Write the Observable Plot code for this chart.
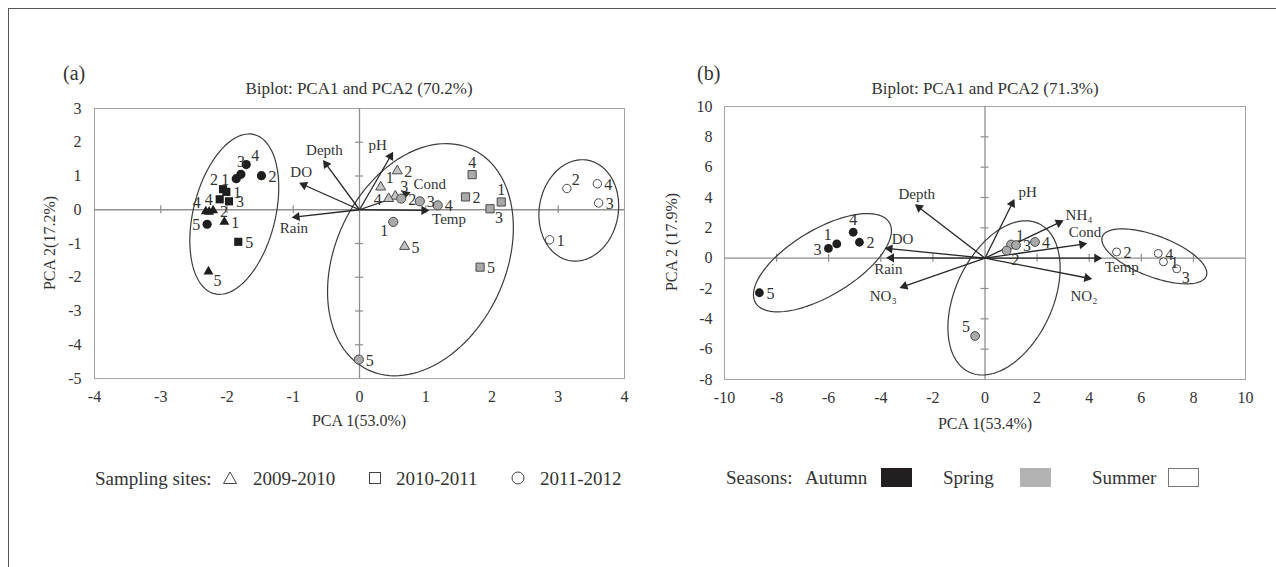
<!DOCTYPE html>
<html><head><meta charset="utf-8">
<script src="https://cdn.jsdelivr.net/npm/d3@7"></script>
<script src="https://cdn.jsdelivr.net/npm/@observablehq/plot@0.6"></script>
<style>
body{margin:0;background:#fff;}
#page{position:relative;width:1276px;height:567px;overflow:hidden;font-family:"Liberation Serif","Times New Roman",serif;color:#333;}
.t{position:absolute;white-space:nowrap;line-height:1;}
.panel{position:absolute;}
#border{position:absolute;left:8px;top:8px;width:1300px;height:620px;border:1px solid #555;box-sizing:border-box;}
</style></head><body><div id="page"><div id="border"></div></div>
<script>
// ---------- Tick labels ----------
const aXTicks = [-4,-3,-2,-1,0,1,2,3,4];
const aYTicks = [-5,-4,-3,-2,-1,0,1,2,3];
const bXTicks = [-10,-8,-6,-4,-2,0,2,4,6,8,10];
const bYTicks = [-8,-6,-4,-2,0,2,4,6,8,10];

// ---------- Panel (a): sample scores [PCA1, PCA2], sites 1-5 ----------
const aAutumn2009 = [[-2.04,-0.36],[-2.21,-0.02],[-2.27,-0.06],[-2.32,-0.05],[-2.28,-1.83]];
const aAutumn2010 = [[-2.01,0.53],[-2.06,0.61],[-1.97,0.25],[-2.11,0.31],[-1.83,-0.95]];
const aAutumn2011 = [[-1.86,0.92],[-1.48,1.01],[-1.79,1.05],[-1.71,1.34],[-2.30,-0.43]];
const aSpring2009 = [[0.32,0.67],[0.57,1.15],[0.54,0.40],[0.44,0.33],[0.68,-1.09]];
const aSpring2010 = [[2.14,0.23],[1.60,0.38],[1.97,0.03],[1.70,1.04],[1.82,-1.70]];
const aSpring2011 = [[0.51,-0.36],[0.63,0.33],[0.91,0.25],[1.18,0.13],[-0.01,-4.44]];
const aSummer2011 = [[2.87,-0.89],[3.13,0.63],[3.61,0.20],[3.59,0.77]];
// label placement codes
const aAutumn2009Lab = ["r","r","","ul","dr"];
const aAutumn2010Lab = ["r","ul","r","l","r"];
const aAutumn2011Lab = ["l","r","u","ur","l"];
const aSpring2009Lab = ["ur","r","ur","l","r"];
const aSpring2010Lab = ["u","r","dr","u","r"];
const aSpring2011Lab = ["dl","r","r","r","r"];
const aSummer2011Lab = ["r","ur","r","r"];
// loadings
const aVars  = ["pH","Depth","DO","Rain","Temp","Cond"];
const aLoad1 = [0.49,-0.53,-0.88,-0.99,1.02,0.74];
const aLoad2 = [1.66,1.42,0.77,-0.22,-0.02,0.50];
const aVarLab = ["ul","u","u","d","dr","ur"];

// ---------- Panel (b) ----------
const bAutumn = [[-5.69,0.94],[-4.82,1.05],[-6.01,0.64],[-5.06,1.71],[-8.66,-2.28]];
const bSpring = [[1.00,0.90],[0.83,0.50],[1.19,0.86],[1.92,1.07],[-0.38,-5.13]];
const bSummer = [[6.85,-0.24],[5.05,0.41],[7.36,-0.70],[6.65,0.31]];
const bAutumnLab = ["ul","r","l","u","r"];
const bSpringLab = ["ur","dr","r","r","ul"];
const bSummerLab = ["r","r","dr","r"];
const bVars  = ["DO","Rain","NO\u2083","Depth","pH","NH\u2084","Cond","Temp","NO\u2082"];
const bLoad1 = [-3.77,-3.71,-3.20,-2.62,1.09,2.94,3.84,4.41,4.03];
const bLoad2 = [0.64,0.02,-1.91,3.46,3.77,2.43,0.94,0.00,-1.34];
const bVarLab = ["ur","d","dl","u","ur","rr","u","dr","dd"];

// cluster outlines: centre in data units, semi-axes in px, angle in degrees
const aClusters = [{cx:-1.89,cy:-0.13,rx:82,ry:41,angle:76},{cx:0.92,cy:-1.48,rx:122,ry:85,angle:64.6},{cx:3.31,cy:-0.02,rx:51,ry:39.5,angle:80}];
const bClusters = [{cx:-6.24,cy:-0.30,rx:78,ry:33,angle:31},{cx:0.73,cy:-2.62,rx:82,ry:48.7,angle:65},{cx:6.50,cy:0.12,rx:55.6,ry:20.5,angle:-20.75}];

const OFF = {r:[7,1,"start"], l:[-7,1,"end"], u:[0,-12,"middle"], d:[0,11,"middle"], ur:[5,-9,"start"], ul:[-5,-9,"end"], dr:[5,9,"start"], dl:[-5,9,"end"], dd:[-6,18,"middle"], rr:[4,-6,"start"]};

const FONT = '"Liberation Serif","Times New Roman",serif';
const BLACK = "#1e1e1e", GRAY = "#a9a9a9", EDGE = "#4a4a4a";

function rowsOf(pts, labs){ return pts.map((p,i)=>({x:p[0], y:p[1], site:String(i+1), lab:labs[i]})); }

function panel(cfg){
  const {width,height,ml,mr,mt,mb,xDomain,yDomain,xTicks,yTicks,groups,vars,l1,l2,vlab,clusters,tpx,tpy} = cfg;
  const kx = (width-ml-mr)/(xDomain[1]-xDomain[0]);
  const ky = (height-mt-mb)/(yDomain[1]-yDomain[0]);
  const marks = [];
  marks.push(Plot.frame({stroke:"#a3a3a3", strokeWidth:1}));
  marks.push(Plot.ruleY([0], {stroke:"#8e8e8e", strokeWidth:1.3}));
  marks.push(Plot.ruleX([0], {stroke:"#8e8e8e", strokeWidth:1.3}));
  const xm = xTicks.filter(t=>t!==0 && t>xDomain[0] && t<xDomain[1]);
  const ym = yTicks.filter(t=>t!==0 && t>yDomain[0] && t<yDomain[1]);
  marks.push(Plot.ruleX(xm, {x:d=>d, y1:()=>-4/ky, y2:()=>4/ky, stroke:"#8e8e8e", strokeWidth:1.2}));
  marks.push(Plot.ruleY(ym, {y:d=>d, x1:()=>-4/kx, x2:()=>4/kx, stroke:"#8e8e8e", strokeWidth:1.2}));
  // ellipses
  const erows = [];
  clusters.forEach((c,id)=>{
    const phi = c.angle*Math.PI/180;
    for(let i=0;i<=120;i++){
      const t = 2*Math.PI*i/120;
      const px = c.rx*Math.cos(t)*Math.cos(phi) - c.ry*Math.sin(t)*Math.sin(phi);
      const py = c.rx*Math.cos(t)*Math.sin(phi) + c.ry*Math.sin(t)*Math.cos(phi);
      erows.push({x:c.cx+px/kx, y:c.cy+py/ky, id});
    }
  });
  marks.push(Plot.line(erows, {x:"x", y:"y", z:"id", stroke:"#3c3c3c", strokeWidth:1.2}));
  // loading arrows
  const arows = vars.map((v,i)=>{
    const ang = Math.atan2(l1[i]*kx, l2[i]*ky);
    return {v, x:l1[i], y:l2[i], lab:vlab[i], ang:ang*180/Math.PI,
            xh:l1[i]-Math.sin(ang)*3/kx, yh:l2[i]-Math.cos(ang)*3/ky};
  });
  marks.push(Plot.link(arows, {x1:()=>0, y1:()=>0, x2:"x", y2:"y", stroke:"#262626", strokeWidth:1.3}));
  marks.push(Plot.dot(arows, {x:"xh", y:"yh", symbol:"triangle", r:3.4, rotate:"ang", fill:"#262626"}));
  for(const [code,[dx,dy,anchor]] of Object.entries(OFF)){
    const sel = arows.filter(d=>d.lab===code);
    if(sel.length) marks.push(Plot.text(sel, {x:"x", y:"y", text:"v", dx, dy, textAnchor:anchor, fontSize:15, fill:"#333"}));
  }
  // points
  const allRows = [];
  for(const g of groups){
    const rows = rowsOf(g.pts, g.labs);
    allRows.push(...rows);
    marks.push(Plot.dot(rows, {x:"x", y:"y", symbol:g.symbol, r:g.r, fill:g.fill, stroke:g.stroke, strokeWidth:1}));
  }
  for(const [code,[dx,dy,anchor]] of Object.entries(OFF)){
    const sel = allRows.filter(d=>d.lab===code);
    if(sel.length) marks.push(Plot.text(sel, {x:"x", y:"y", text:"site", dx, dy, textAnchor:anchor, fontSize:16, fill:"#333"}));
  }
  return Plot.plot({
    width, height, marginLeft:ml, marginRight:mr, marginTop:mt, marginBottom:mb,
    style:{fontFamily:FONT, fontSize:"16px", color:"#333", background:"transparent", overflow:"visible"},
    x:{domain:xDomain, ticks:xTicks, tickSize:0, tickPadding:tpx, tickFormat:d=>String(d), label:null},
    y:{domain:yDomain, ticks:yTicks, tickSize:0, tickPadding:tpy, tickFormat:d=>String(d), label:null},
    marks
  });
}

const page = document.getElementById("page");
function place(el, left, top){ el.classList.add("panel"); el.style.left=left+"px"; el.style.top=top+"px"; page.appendChild(el); }
function text(s, x, y, size, anchor="start", rot=0){
  const d = document.createElement("div"); d.className="t"; d.textContent=s;
  d.style.fontSize=size+"px"; d.style.left=x+"px"; d.style.top=y+"px";
  const tx = anchor==="middle"?"-50%":anchor==="end"?"-100%":"0";
  d.style.transform = rot ? `translate(-50%,-50%) rotate(${rot}deg)` : `translate(${tx},-50%)`;
  page.appendChild(d); return d;
}

const chartA = panel({width:620,height:330,ml:74,mr:16,mt:13,mb:47,xDomain:[-4,4],yDomain:[-5,3],xTicks:aXTicks,yTicks:aYTicks,tpx:12,tpy:13,
  groups:[
    {pts:aAutumn2009,labs:aAutumn2009Lab,symbol:"triangle",r:3.7,fill:BLACK,stroke:"none"},
    {pts:aAutumn2010,labs:aAutumn2010Lab,symbol:"square",r:4.6,fill:BLACK,stroke:"none"},
    {pts:aAutumn2011,labs:aAutumn2011Lab,symbol:"circle",r:4.6,fill:BLACK,stroke:"none"},
    {pts:aSpring2009,labs:aSpring2009Lab,symbol:"triangle",r:3.7,fill:"#c4c4c4",stroke:EDGE},
    {pts:aSpring2010,labs:aSpring2010Lab,symbol:"square",r:4.6,fill:GRAY,stroke:EDGE},
    {pts:aSpring2011,labs:aSpring2011Lab,symbol:"circle",r:4.6,fill:GRAY,stroke:EDGE},
    {pts:aSummer2011,labs:aSummer2011Lab,symbol:"circle",r:4.2,fill:"#fff",stroke:EDGE}
  ],
  vars:aVars,l1:aLoad1,l2:aLoad2,vlab:aVarLab,clusters:aClusters});
place(chartA, 20, 95);

const chartB = panel({width:620,height:340,ml:84,mr:15,mt:14,mb:53,xDomain:[-10,10],yDomain:[-8,10],xTicks:bXTicks,yTicks:bYTicks,tpx:12,tpy:12,
  groups:[
    {pts:bAutumn,labs:bAutumnLab,symbol:"circle",r:4.4,fill:BLACK,stroke:"none"},
    {pts:bSpring,labs:bSpringLab,symbol:"circle",r:4.4,fill:GRAY,stroke:EDGE},
    {pts:bSummer,labs:bSummerLab,symbol:"circle",r:4,fill:"#fff",stroke:EDGE}
  ],
  vars:bVars,l1:bLoad1,l2:bLoad2,vlab:bVarLab,clusters:bClusters});
place(chartB, 640, 92);

// titles & axis titles
text("(a)", 63, 73, 20);
text("Biplot: PCA1 and PCA2 (70.2%)", 359, 88, 17, "middle");
text("PCA 1(53.0%)", 359, 421, 16, "middle");
text("PCA 2(17.2%)", 50, 243, 16, "middle", -90);
text("(b)", 697, 73, 20);
text("Biplot: PCA1 and PCA2 (71.3%)", 985, 88, 17, "middle");
text("PCA 1(53.4%)", 985, 424, 16, "middle");
text("PCA 2 (17.9%)", 672, 242, 16, "middle", -90);

// legend (a)
const legAY = 478;
text("Sampling sites:", 95, legAY, 19);
text("2009-2010", 253, legAY, 19);
text("2010-2011", 396, legAY, 19);
text("2011-2012", 540, legAY, 19);
function legSym(kind, cx, cy){
  const ns="http://www.w3.org/2000/svg";
  const s=document.createElementNS(ns,"svg"); s.setAttribute("width",18); s.setAttribute("height",18);
  s.style.position="absolute"; s.style.left=(cx-9)+"px"; s.style.top=(cy-9)+"px";
  let e;
  if(kind==="triangle"){ e=document.createElementNS(ns,"polygon"); e.setAttribute("points","9,3 15.5,14.5 2.5,14.5"); }
  else if(kind==="square"){ e=document.createElementNS(ns,"rect"); e.setAttribute("x",3.5); e.setAttribute("y",3.5); e.setAttribute("width",11); e.setAttribute("height",11); }
  else { e=document.createElementNS(ns,"circle"); e.setAttribute("cx",9); e.setAttribute("cy",9); e.setAttribute("r",6); }
  e.setAttribute("fill","none"); e.setAttribute("stroke","#444"); e.setAttribute("stroke-width","1");
  s.appendChild(e); page.appendChild(s);
}
legSym("triangle", 230, legAY);
legSym("square", 375, legAY);
legSym("circle", 518, legAY);

// legend (b)
const legBY = 477;
text("Seasons:", 726, legBY, 19);
text("Autumn", 805, legBY, 19);
text("Spring", 943, legBY, 19);
text("Summer", 1092, legBY, 19);
function swatch(x, fill){
  const d=document.createElement("div"); d.style.position="absolute"; d.style.left=x+"px"; d.style.top=(legBY-9)+"px";
  d.style.width="31px"; d.style.height="19px"; d.style.background=fill; d.style.boxSizing="border-box";
  d.style.border = fill==="#fff" ? "1px solid #777" : "1px solid "+fill;
  page.appendChild(d);
}
swatch(881, "#231f20");
swatch(1020, "#b3b3b3");
swatch(1168, "#fff");
</script>
</body></html>
